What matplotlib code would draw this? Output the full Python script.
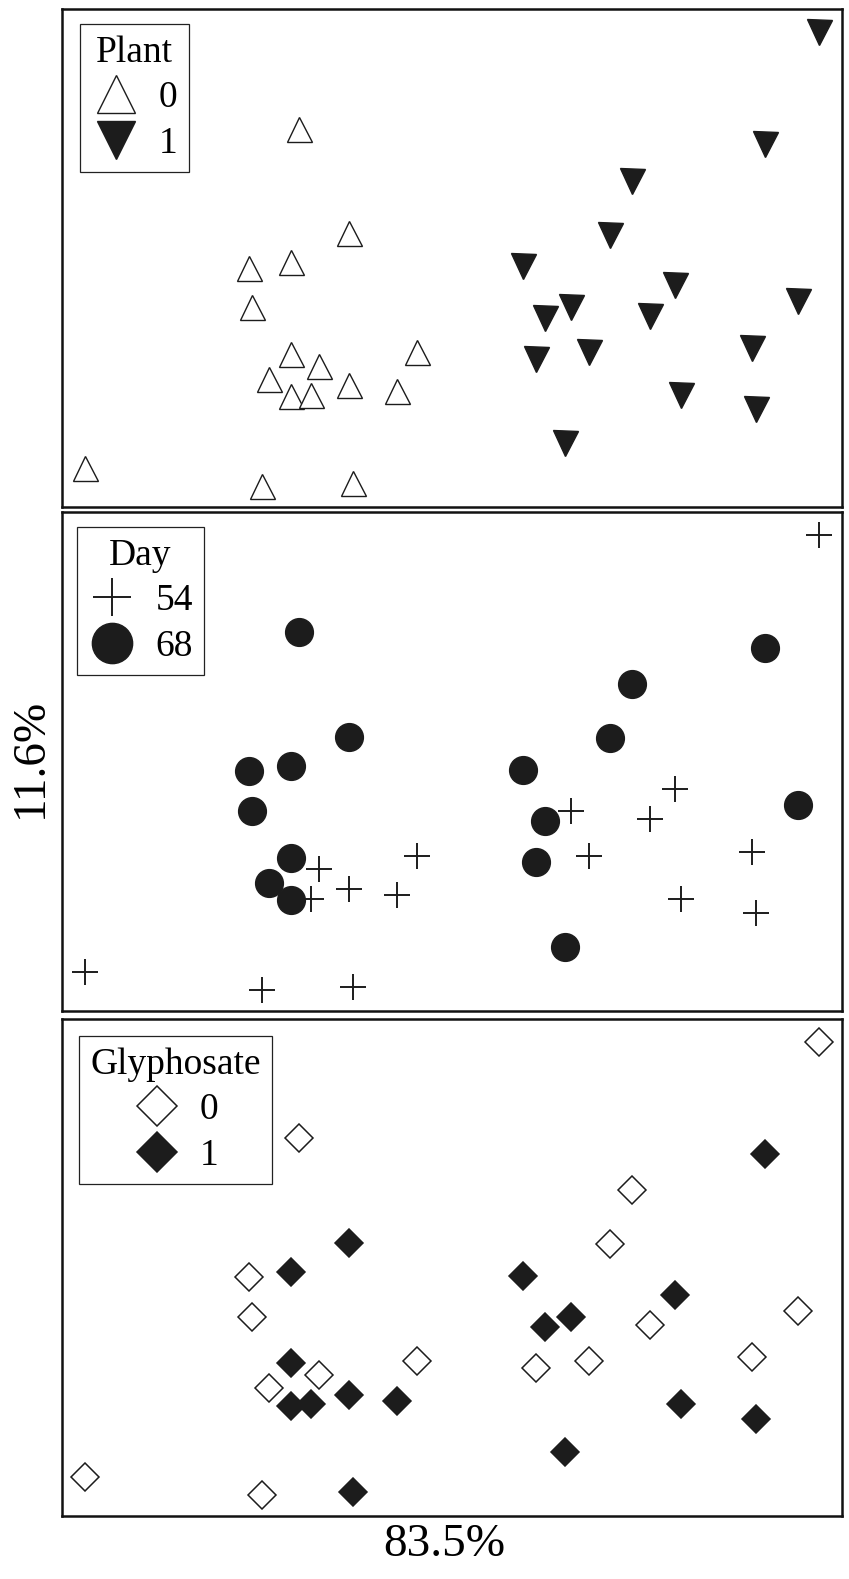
import matplotlib
matplotlib.use("Agg")
import matplotlib.pyplot as plt
from matplotlib.lines import Line2D

plt.rcParams['font.family'] = ['Liberation Serif', 'DejaVu Serif']

# Ordination scores (axis 1 = 83.5%, axis 2 = 11.6%)
x = [0.304, 0.368, 0.294, 0.240, 0.244, 0.294, 0.330, 0.266,
     0.294, 0.319, 0.368, 0.429, 0.455, 0.030, 0.256, 0.373,
     0.970, 0.901, 0.731, 0.703, 0.591, 0.786, 0.944, 0.653,
     0.619, 0.754, 0.608, 0.675, 0.884, 0.793, 0.890, 0.645]
y = [0.760, 0.550, 0.491, 0.480, 0.401, 0.307, 0.284, 0.257,
     0.222, 0.225, 0.244, 0.232, 0.311, 0.079, 0.042, 0.048,
     0.953, 0.728, 0.655, 0.547, 0.483, 0.445, 0.413, 0.401,
     0.380, 0.384, 0.298, 0.311, 0.319, 0.225, 0.196, 0.129]
plant = [0]*16 + [1]*16
day = [68, 68, 68, 68, 68, 68, 54, 68, 68, 54, 54, 54, 54, 54, 54, 54,
       54, 68, 68, 68, 68, 54, 68, 54, 68, 54, 68, 54, 54, 54, 54, 68]
glyphosate = [0, 1, 1, 0, 0, 1, 0, 0, 1, 1, 1, 1, 0, 0, 0, 1,
              0, 1, 0, 0, 1, 1, 0, 1, 1, 0, 0, 0, 0, 1, 1, 1]

dark = '#1c1c1c'
W, H = 849, 1579
fig = plt.figure(figsize=(W/100, H/100), dpi=100)

left = 62/W
width = (842-62)/W
panels_px = [(9, 507), (512, 1011), (1019, 1516)]
axes = []
for top, bot in panels_px:
    ax = fig.add_axes([left, 1 - bot/H, width, (bot-top)/H])
    ax.set_xlim(0, 1)
    ax.set_ylim(0, 1)
    ax.set_xticks([])
    ax.set_yticks([])
    for s in ax.spines.values():
        s.set_linewidth(1.8)
        s.set_color('#111111')
    axes.append(ax)

fs = 27

def draw(ax, groups, values, styles, title, anchor, mscale):
    handles = []
    for g in groups:
        xs = [xx for xx, v in zip(x, values) if v == g]
        ys = [yy for yy, v in zip(y, values) if v == g]
        st = styles[g]
        ax.plot(xs, ys, linestyle='none', **st)
        handles.append(Line2D([], [], linestyle='none', **st))
    leg = ax.legend(handles, [str(g) for g in groups], title=title,
                    loc='upper left', bbox_to_anchor=anchor, borderaxespad=0,
                    fontsize=fs, title_fontsize=fs, markerscale=mscale,
                    frameon=True, fancybox=False, framealpha=1,
                    edgecolor='#222222', handlelength=1.3, handletextpad=0.5,
                    labelspacing=0.3, borderpad=0.3)
    leg.get_frame().set_linewidth(0.9)

draw(axes[0], [0, 1], plant,
     {0: dict(marker='^', markersize=18, markerfacecolor='white', markeredgecolor=dark, markeredgewidth=1.0),
      1: dict(marker='v', markersize=18, markerfacecolor=dark, markeredgecolor=dark, markeredgewidth=1.0)},
     'Plant', (0.023, 0.970), 1.52)

draw(axes[1], [54, 68], day,
     {54: dict(marker='+', markersize=18.5, color=dark, markeredgewidth=1.4),
      68: dict(marker='o', markersize=20, markerfacecolor=dark, markeredgecolor=dark, markeredgewidth=1.0)},
     'Day', (0.019, 0.970), 1.45)

draw(axes[2], [0, 1], glyphosate,
     {0: dict(marker='D', markersize=14, markerfacecolor='white', markeredgecolor=dark, markeredgewidth=1.1),
      1: dict(marker='D', markersize=14, markerfacecolor=dark, markeredgecolor=dark, markeredgewidth=1.1)},
     'Glyphosate', (0.022, 0.966), 1.43)

fig.text(444/W, 1 - 1545/H, '83.5%', ha='center', va='center', fontsize=34)
fig.text(31/W, 1 - 758/H, '11.6%', ha='center', va='center', fontsize=34, rotation=90)

fig.savefig('out.png', dpi=100)
